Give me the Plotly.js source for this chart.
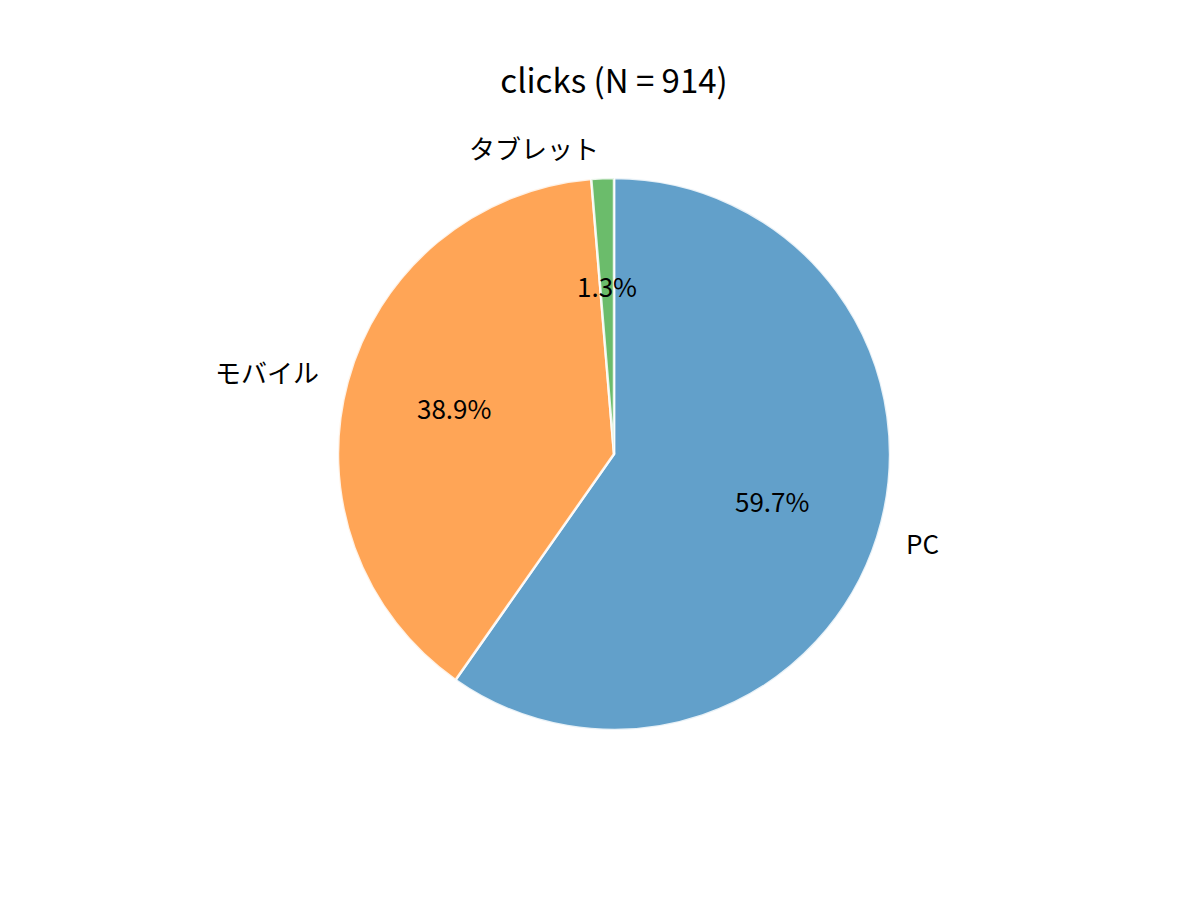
<!DOCTYPE html>
<html>
<head>
<meta charset="utf-8">
<script src="https://cdn.plot.ly/plotly-3.0.1.min.js"></script>
<style>
  body { margin: 0; }
  #graph_area { width: 1200px; height: 900px; }
</style>
</head>
<body>
<div id="graph_area"></div>
<script>
// data (N = 914)
const labels = ["PC", "モバイル", "タブレット"];
const values = [546, 356, 12];
const colors = ["rgba(31,119,180,0.7)", "rgba(255,127,14,0.7)", "rgba(44,160,44,0.7)"];
const chartTitle = "clicks (N = 914)";

const W = 1200, H = 900;
const FONT = "Noto Sans CJK JP";

// pie geometry (pixels)
const cx = 614, cy = 454, R = 276;
const domX = [(cx - R) / W, (cx + R) / W];
const domY = [1 - (cy + R) / H, 1 - (cy - R) / H];

// label positions come from the values: clockwise from 12 o'clock
const total = values.reduce((a, b) => a + b, 0);
const annotations = [];
let acc = 0;
values.forEach((v, i) => {
    const frac = v / total;
    const mid = (acc + frac / 2) * 2 * Math.PI;
    acc += frac;
    const sx = Math.sin(mid), sy = Math.cos(mid);
    // outside category label
    const lx = cx + 1.1 * R * sx, ly = cy - 1.1 * R * sy;
    annotations.push({
        text: labels[i], xref: "paper", yref: "paper",
        x: lx / W, y: 1 - ly / H, yshift: 3,
        xanchor: sx > 0 ? "left" : "right", yanchor: "middle",
        showarrow: false, font: { family: FONT, size: 26, color: "#000" }
    });
    // percentage inside
    const px = cx + 0.6 * R * sx, py = cy - 0.6 * R * sy;
    annotations.push({
        text: (frac * 100).toFixed(1) + "%", xref: "paper", yref: "paper",
        x: px / W, y: 1 - py / H, yshift: 3,
        xanchor: "center", yanchor: "middle",
        showarrow: false, font: { family: FONT, size: 26, color: "#000" }
    });
});

Plotly.newPlot("graph_area", [{
    type: "pie",
    labels: labels,
    values: values,
    sort: false,
    direction: "clockwise",
    rotation: 0,
    textinfo: "none",
    hoverinfo: "label+percent",
    automargin: false,
    domain: { x: domX, y: domY },
    marker: { colors: colors, line: { color: "rgba(255,255,255,0.85)", width: 2.5 } }
}], {
    width: W, height: H,
    margin: { l: 0, r: 0, t: 0, b: 0 },
    paper_bgcolor: "#fff",
    showlegend: false,
    title: {
        text: chartTitle, x: cx / W, xanchor: "center",
        y: 1 - 81 / H, yanchor: "middle",
        font: { family: FONT, size: 33, color: "#000" }
    },
    annotations: annotations
}, { displayModeBar: false, staticPlot: true });
</script>
</body>
</html>
